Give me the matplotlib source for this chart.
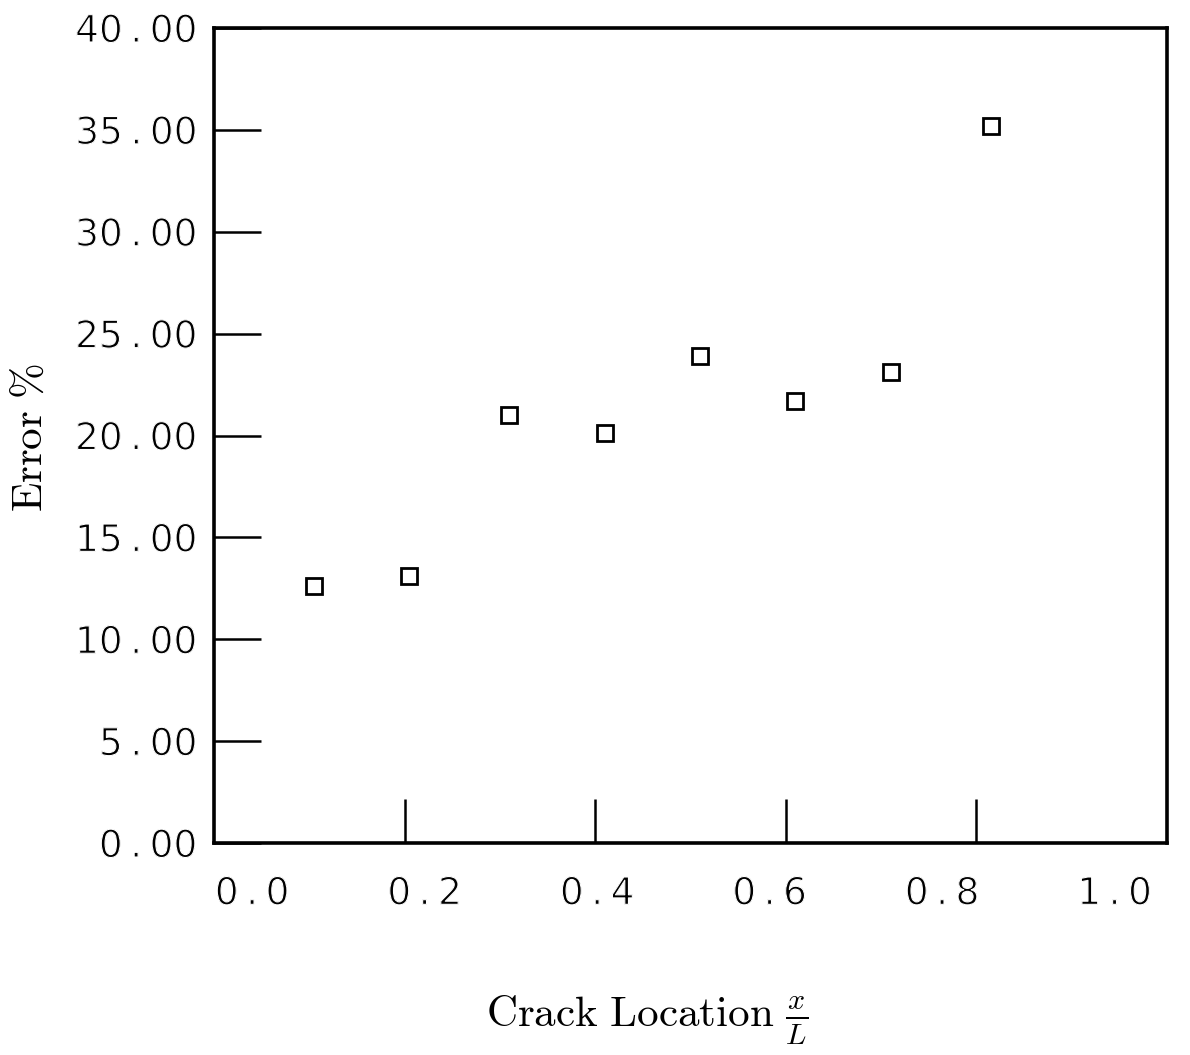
import numpy as np
import matplotlib
matplotlib.use("Agg")
from matplotlib import pyplot as plt
from matplotlib import patheffects as pe

plt.rcParams['mathtext.fontset'] = 'cm'

# crack location x/L and the resulting error in percent
crack_loc = [0.105, 0.205, 0.31, 0.41, 0.51, 0.61, 0.71, 0.815]
error_pct = [12.6, 13.1, 21.0, 20.1, 23.9, 21.7, 23.1, 35.2]

xtick_values = [0.0, 0.2, 0.4, 0.6, 0.8, 1.0]
xtick_marks = [0.2, 0.4, 0.6, 0.8]
ytick_values = [0, 5, 10, 15, 20, 25, 30, 35, 40]


def spaced(s):
    # give the decimal point a full character cell, plotter style
    return s.replace('.', '\u2009.\u2009')


fig = plt.figure(figsize=(11.9, 10.55), dpi=100)
ax = fig.add_axes([214 / 1190, 1 - 843 / 1055, 953 / 1190, 815 / 1055])

ax.plot(crack_loc, error_pct, linestyle='none', marker='s', markersize=11,
        markerfacecolor='white', markeredgecolor='black', markeredgewidth=2.0)

ax.set_xlim(0, 1)
ax.set_ylim(0, 40)

for s in ax.spines.values():
    s.set_linewidth(2.6)

tick_font = dict(family='DejaVu Sans', size=27)
# white outline drawn over the glyphs makes the strokes a little thinner
thin = [pe.Normal(), pe.Stroke(linewidth=0.8, foreground='white')]

# y axis: long inward ticks, labels with two decimals
ax.set_yticks(ytick_values)
ax.set_yticklabels([spaced(f'{v:.2f}') for v in ytick_values], fontdict=tick_font)
ax.tick_params(axis='y', direction='in', length=34, width=1.8, pad=12)

# x axis: tick marks as minor ticks, labels placed a bit apart from them
label_x = 0.04 + 0.905 * np.array(xtick_values)
ax.set_xticks(label_x)
ax.set_xticklabels([spaced(f'{v:.1f}') for v in xtick_values], fontdict=tick_font)
ax.tick_params(axis='x', which='major', length=0, pad=24)
ax.set_xticks(xtick_marks, minor=True)
ax.tick_params(axis='x', which='minor', direction='in', length=32, width=1.8)

for lbl in ax.get_xticklabels() + ax.get_yticklabels():
    lbl.set_path_effects(thin)

fig.text(647 / 1190, 1 - 1020 / 1055, r'$\mathrm{Crack\ Location}\ \frac{x}{L}$',
         ha='center', va='center', fontsize=31)
fig.text(30 / 1190, 1 - 437 / 1055, r'$\mathrm{Error}\ \%$',
         ha='center', va='center', rotation=90, fontsize=31)

fig.savefig('out.png', dpi=100, facecolor='white')
